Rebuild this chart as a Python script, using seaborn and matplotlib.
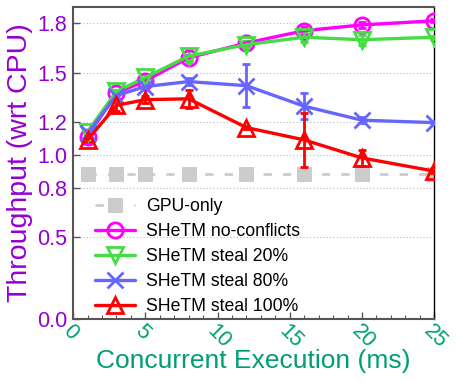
import matplotlib
matplotlib.use("Agg")
import matplotlib.pyplot as plt
import seaborn as sns
import pandas as pd
import numpy as np

# ---- data ----
x_ms = [1, 3, 5, 8, 12, 16, 20, 25]
gpu_only = [0.885, 0.885, 0.885, 0.885, 0.885, 0.885, 0.885, 0.885]
no_conflicts = [1.11, 1.375, 1.45, 1.59, 1.68, 1.755, 1.79, 1.815]
no_conflicts_err = [0.01, 0.01, 0.01, 0.015, 0.01, 0.02, 0.02, 0.01]
steal20 = [1.14, 1.385, 1.47, 1.60, 1.67, 1.715, 1.70, 1.715]
steal20_err = [0.01, 0.01, 0.02, 0.035, 0.02, 0.03, 0.03, 0.01]
steal80 = [1.13, 1.36, 1.415, 1.445, 1.42, 1.295, 1.21, 1.195]
steal80_err = [0.01, 0.01, 0.02, 0.02, 0.13, 0.08, 0.02, 0.01]
steal100 = [1.09, 1.30, 1.335, 1.34, 1.165, 1.09, 0.98, 0.90]
steal100_err = [0.01, 0.035, 0.02, 0.055, 0.01, 0.165, 0.05, 0.01]

series_names = ["SHeTM no-conflicts", "SHeTM steal 20%", "SHeTM steal 80%", "SHeTM steal 100%"]
series_vals = [no_conflicts, steal20, steal80, steal100]
series_errs = [no_conflicts_err, steal20_err, steal80_err, steal100_err]
colors = ["#ff00ff", "#44dd44", "#6666ff", "#ff0000"]
markers = ["o", "v", "x", "^"]

yticks = [0.0, 0.5, 0.8, 1.0, 1.2, 1.5, 1.8]
xticks = [0, 5, 10, 15, 20, 25]

sns.set_theme(style="white")
plt.rcParams['font.family'] = ['Liberation Sans', 'DejaVu Sans']

fig = plt.figure(figsize=(4.57, 3.81), dpi=100)
ax = fig.add_axes([0.16, 0.163, 0.79, 0.819])

purple = "#9400d3"
teal = "#009e73"

# horizontal dotted grid
for yv in yticks:
    ax.axhline(yv, color="#bbbbbb", lw=0.8, ls=(0, (1, 2)), zorder=0)

df_gpu = pd.DataFrame({"x": x_ms, "y": gpu_only})
sns.lineplot(data=df_gpu, x="x", y="y", ax=ax, color="#cccccc", lw=2,
             linestyle=(0, (3, 4)), marker="s", markersize=10,
             markeredgecolor="#cccccc", markerfacecolor="#cccccc",
             label="GPU-only", zorder=2)

for name, vals, errs, c, m in zip(series_names, series_vals, series_errs, colors, markers):
    df = pd.DataFrame({"x": x_ms, "y": vals})
    ax.errorbar(x_ms, vals, yerr=errs, fmt="none", ecolor=c, elinewidth=2,
                capsize=3, capthick=2, zorder=3)
    kw = dict(markeredgecolor=c, markeredgewidth=2, markersize=11)
    if m != "x":
        kw["markerfacecolor"] = "none"
    sns.lineplot(data=df, x="x", y="y", ax=ax, color=c, lw=2.4, marker=m,
                 label=name, zorder=4, **kw)

ax.set_xlim(0, 25)
ax.set_ylim(0, 1.9)
ax.set_yticks(yticks)
ax.set_yticklabels([f"{v:.1f}" for v in yticks], color=purple, fontsize=15.5)
ax.set_xticks(xticks)
ax.set_xticks(np.arange(0, 26, 1), minor=True)
ax.set_xticklabels([str(v) for v in xticks], color=teal, fontsize=15.5,
                   rotation=-45, ha="left", va="top", rotation_mode="anchor")
ax.tick_params(axis="both", which="both", direction="in", left=True, bottom=True)
ax.tick_params(axis="x", which="major", length=5, width=1, color="#555555", pad=1)
ax.tick_params(axis="x", which="minor", length=3, width=0.8, color="#555555")
ax.tick_params(axis="y", which="major", length=5, width=1, color="#555555", pad=4)

ax.set_xlabel("Concurrent Execution (ms)", color=teal, fontsize=19, labelpad=-2)
ax.set_ylabel("Throughput (wrt CPU)", color=purple, fontsize=20.5, labelpad=3)

for side in ["left", "bottom", "top"]:
    ax.spines[side].set_color("#555555")
    ax.spines[side].set_linewidth(1.5)
ax.spines["right"].set_color("black")
ax.spines["right"].set_linewidth(1.0)

leg = ax.legend(loc="upper left", bbox_to_anchor=(0.04, 0.41), frameon=False,
                fontsize=12.7, handlelength=2.3, labelspacing=0.45, handletextpad=0.6,
                borderaxespad=0)
for t in leg.get_texts():
    t.set_color("black")

fig.savefig("out.png", dpi=100)
